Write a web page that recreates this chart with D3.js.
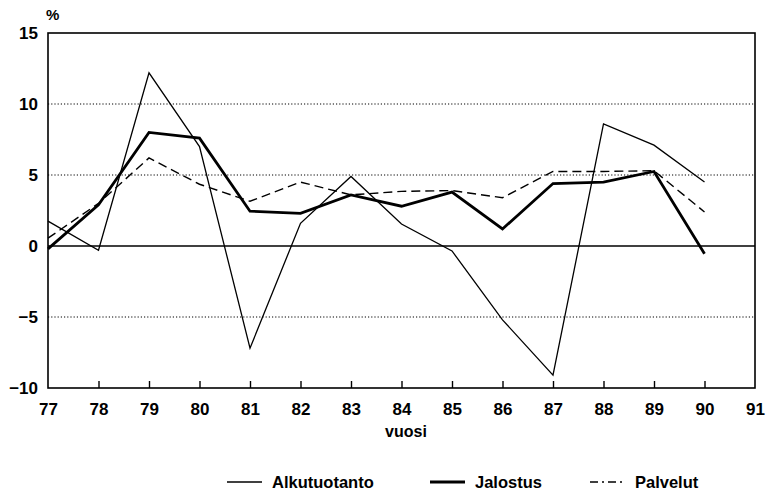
<!DOCTYPE html>
<html>
<head>
<meta charset="utf-8">
<script src="https://cdn.jsdelivr.net/npm/d3@7"></script>
<style>
  body { margin: 0; background: #fff; }
  text { font-family: "Liberation Sans", Arial, sans-serif; font-weight: bold; fill: #000; }
</style>
</head>
<body>
<div id="chart"></div>
<script>
// values
let years = [77, 78, 79, 80, 81, 82, 83, 84, 85, 86, 87, 88, 89, 90];
let alkutuotanto = [1.75, -0.3, 12.2, 7.0, -7.2, 1.6, 4.9, 1.55, -0.35, -5.2, -9.1, 8.6, 7.1, 4.5];
let jalostus = [-0.2, 2.9, 8.0, 7.6, 2.45, 2.3, 3.6, 2.8, 3.8, 1.2, 4.4, 4.5, 5.25, -0.55];
let palvelut = [0.55, 3.0, 6.2, 4.35, 3.15, 4.5, 3.6, 3.85, 3.9, 3.4, 5.25, 5.25, 5.3, 2.4];
let xTicks = [77, 78, 79, 80, 81, 82, 83, 84, 85, 86, 87, 88, 89, 90, 91];
let yTicks = [-10, -5, 0, 5, 10, 15];
let seriesNames = ["Alkutuotanto", "Jalostus", "Palvelut"];

let width = 767, height = 504;
let plotLeft = 48, plotRight = 755, plotTop = 33, plotBottom = 388;

let svg = d3.select("#chart").append("svg")
    .attr("width", width)
    .attr("height", height);

let x = d3.scaleLinear().domain([77, 91]).range([plotLeft, plotRight]);
let y = d3.scaleLinear().domain([-10, 15]).range([plotBottom, plotTop]);

// dotted grid, solid zero line
svg.selectAll("line.grid")
    .data(yTicks.filter(d => d !== -10 && d !== 15))
    .enter().append("line")
    .attr("x1", plotLeft).attr("x2", plotRight)
    .attr("y1", d => y(d)).attr("y2", d => y(d))
    .attr("stroke", "#000")
    .attr("stroke-width", d => d === 0 ? 1.3 : 1)
    .attr("stroke-dasharray", d => d === 0 ? null : "1.2,2");

// frame
svg.append("rect")
    .attr("x", plotLeft).attr("y", plotTop)
    .attr("width", plotRight - plotLeft).attr("height", plotBottom - plotTop)
    .attr("fill", "none").attr("stroke", "#000").attr("stroke-width", 1.6);

// x ticks point upwards into the plot
let xAxis = d3.axisBottom(x).tickValues(xTicks).tickSize(-7)
    .tickFormat(d3.format("d"));
let gx = svg.append("g").attr("transform", `translate(0,${plotBottom})`).call(xAxis);
gx.select(".domain").remove();
gx.selectAll(".tick line").attr("stroke-width", 1.4)
    .filter(d => d === 77 || d === 91).remove();
gx.selectAll("text").style("font-size", "17px").attr("dy", null).attr("y", 27);

let yAxis = d3.axisLeft(y).tickValues(yTicks).tickSize(0).tickPadding(10);
let gy = svg.append("g").attr("transform", `translate(${plotLeft},0)`).call(yAxis);
gy.select(".domain").remove();
gy.selectAll("text").style("font-size", "17px");

svg.append("text").attr("x", 46).attr("y", 20).style("font-size", "15px").text("%");
svg.append("text").attr("x", 406).attr("y", 437)
    .attr("text-anchor", "middle").style("font-size", "16px").text("vuosi");

let line = d3.line().x((d, i) => x(years[i])).y(d => y(d));
let styles = [
    { data: alkutuotanto, w: 1.3, dash: null },
    { data: jalostus, w: 2.8, dash: null },
    { data: palvelut, w: 1.4, dash: "9,5" }
];

svg.selectAll("path.series")
    .data(styles)
    .enter().append("path")
    .attr("class", "series")
    .attr("d", d => line(d.data))
    .attr("fill", "none")
    .attr("stroke", "#000")
    .attr("stroke-width", d => d.w)
    .attr("stroke-dasharray", d => d.dash)
    .attr("stroke-linejoin", "miter");

// legend
let legendX = [227, 430, 590];
let leg = svg.selectAll("g.legend")
    .data(styles)
    .enter().append("g")
    .attr("transform", (d, i) => `translate(${legendX[i]},482)`);
leg.append("line")
    .attr("x1", 0).attr("x2", 35).attr("y1", 0).attr("y2", 0)
    .attr("stroke", "#000")
    .attr("stroke-width", d => d.w)
    .attr("stroke-dasharray", d => d.dash ? "8,4,2,4" : null);
leg.append("text")
    .attr("x", 45).attr("y", 6)
    .style("font-size", "16.5px")
    .text((d, i) => seriesNames[i]);
</script>
</body>
</html>
